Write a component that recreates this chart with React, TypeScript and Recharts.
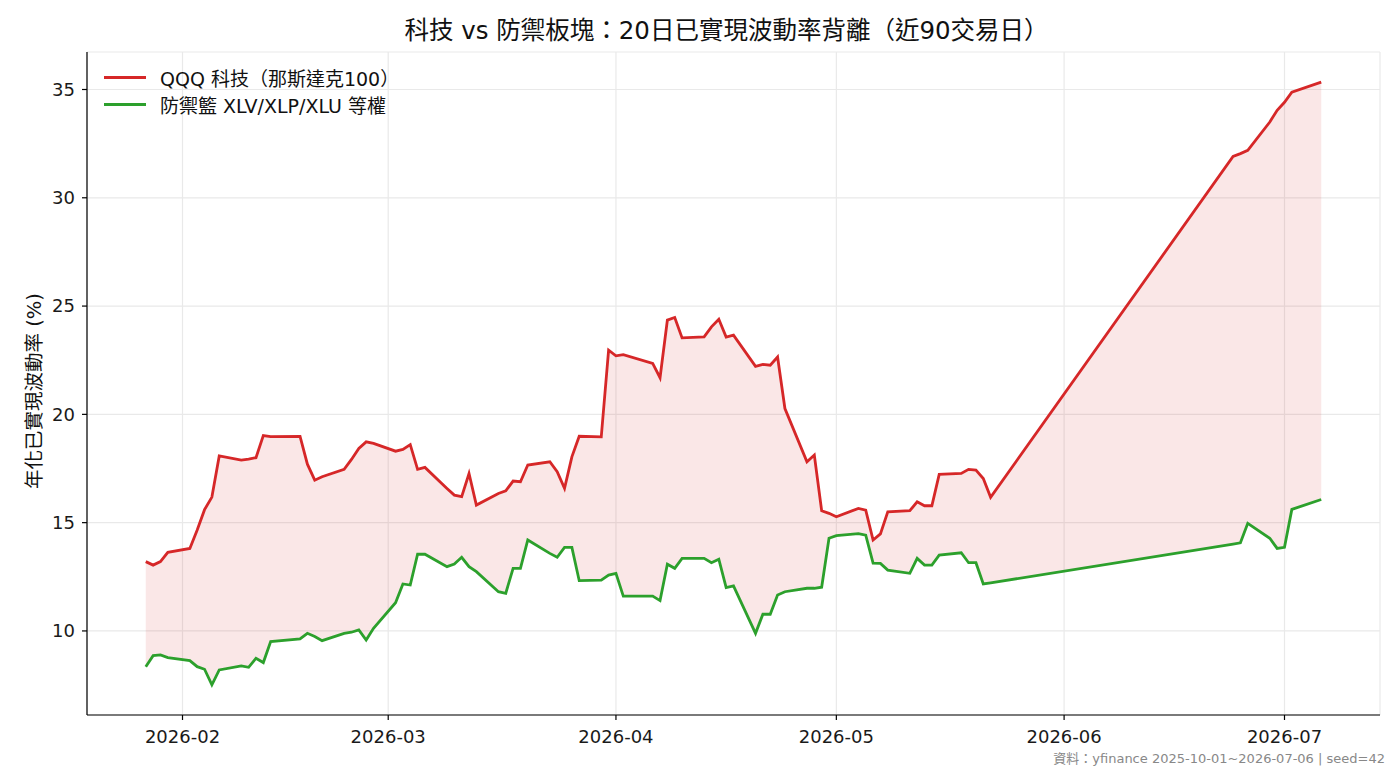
import { ComposedChart, Area, Line, XAxis, YAxis, CartesianGrid } from 'recharts'

const FONT = '"DejaVu Sans", "Noto Sans CJK TC", sans-serif'
const RED = '#d62728'
const GREEN = '#2ca02c'

// trading days (close dates)
const dates = [
  '2026-01-27', '2026-01-28', '2026-01-29', '2026-01-30', '2026-02-02', '2026-02-03', '2026-02-04', '2026-02-05',
  '2026-02-06', '2026-02-09', '2026-02-10', '2026-02-11', '2026-02-12', '2026-02-13', '2026-02-17', '2026-02-18',
  '2026-02-19', '2026-02-20', '2026-02-23', '2026-02-24', '2026-02-25', '2026-02-26', '2026-02-27', '2026-03-02',
  '2026-03-03', '2026-03-04', '2026-03-05', '2026-03-06', '2026-03-09', '2026-03-10', '2026-03-11', '2026-03-12',
  '2026-03-13', '2026-03-16', '2026-03-17', '2026-03-18', '2026-03-19', '2026-03-20', '2026-03-23', '2026-03-24',
  '2026-03-25', '2026-03-26', '2026-03-27', '2026-03-30', '2026-03-31', '2026-04-01', '2026-04-02', '2026-04-06',
  '2026-04-07', '2026-04-08', '2026-04-09', '2026-04-10', '2026-04-13', '2026-04-14', '2026-04-15', '2026-04-16',
  '2026-04-17', '2026-04-20', '2026-04-21', '2026-04-22', '2026-04-23', '2026-04-24', '2026-04-27', '2026-04-28',
  '2026-04-29', '2026-04-30', '2026-05-01', '2026-05-04', '2026-05-05', '2026-05-06', '2026-05-07', '2026-05-08',
  '2026-05-11', '2026-05-12', '2026-05-13', '2026-05-14', '2026-05-15', '2026-05-18', '2026-05-19', '2026-05-20',
  '2026-05-21', '2026-05-22', '2026-06-24', '2026-06-25', '2026-06-26', '2026-06-29', '2026-06-30', '2026-07-01',
  '2026-07-02', '2026-07-06',
]

// QQQ 20d realized vol (%)
const qqqVol = [
  13.2, 13.04, 13.2, 13.63, 13.81, 14.66, 15.6, 16.18,
  18.08, 17.89, 17.93, 18.0, 19.02, 18.97, 18.98, 17.7,
  16.96, 17.12, 17.46, 17.92, 18.43, 18.73, 18.66, 18.3,
  18.38, 18.6, 17.46, 17.55, 16.58, 16.27, 16.2, 17.27,
  15.81, 16.35, 16.47, 16.92, 16.89, 17.66, 17.81, 17.35,
  16.58, 18.04, 18.99, 18.96, 22.96, 22.7, 22.76, 22.35,
  21.69, 24.35, 24.47, 23.53, 23.58, 24.04, 24.39, 23.57,
  23.66, 22.22, 22.31, 22.27, 22.65, 20.27, 17.81, 18.12,
  15.55, 15.43, 15.27, 15.66, 15.58, 14.2, 14.48, 15.5,
  15.55, 15.96, 15.78, 15.78, 17.23, 17.27, 17.46, 17.43,
  17.04, 16.17, 31.91, 32.04, 32.19, 33.5, 34.04, 34.41,
  34.88, 35.34,
]

// XLV/XLP/XLU equal-weight 20d realized vol (%)
const defVol = [
  8.35, 8.86, 8.89, 8.77, 8.63, 8.35, 8.23, 7.51,
  8.2, 8.39, 8.32, 8.74, 8.54, 9.51, 9.63, 9.89,
  9.74, 9.55, 9.89, 9.94, 10.05, 9.58, 10.12, 11.3,
  12.17, 12.12, 13.54, 13.54, 12.97, 13.09, 13.4, 12.97,
  12.74, 11.81, 11.74, 12.89, 12.89, 14.2, 13.58, 13.4,
  13.86, 13.86, 12.32, 12.35, 12.58, 12.66, 11.61, 11.61,
  11.4, 13.08, 12.89, 13.35, 13.35, 13.15, 13.31, 12.0,
  12.08, 9.89, 10.77, 10.77, 11.66, 11.81, 11.97, 11.97,
  12.02, 14.28, 14.4, 14.49, 14.42, 13.13, 13.12, 12.81,
  12.66, 13.35, 13.04, 13.04, 13.5, 13.61, 13.15, 13.15,
  12.17, 12.22, 14.01, 14.07, 14.97, 14.28, 13.81, 13.86,
  15.61, 16.07,
]

const monthTicks = ['2026-02-01', '2026-03-01', '2026-04-01', '2026-05-01', '2026-06-01', '2026-07-01']
const yTicks = [10, 15, 20, 25, 30, 35]

const legendItems = [
  { label: 'QQQ 科技（那斯達克100）', color: RED },
  { label: '防禦籃 XLV/XLP/XLU 等權', color: GREEN },
]

const DAY = 86400000
const toTs = (d: string) => Date.parse(d + 'T00:00:00Z')

export default function App() {
  const data = dates.map((d, i) => ({
    t: toTs(d),
    qqq: qqqVol[i],
    def: defVol[i],
    band: [defVol[i], qqqVol[i]],
  }))

  // matplotlib-like 5% margins
  const tMin = data[0].t, tMax = data[data.length - 1].t
  const tPad = (tMax - tMin) * 0.05
  const all = [...qqqVol, ...defVol]
  const vMin = Math.min(...all), vMax = Math.max(...all)
  const vPad = (vMax - vMin) * 0.05

  const tickStyle = { fontSize: 18, fill: '#1a1a1a', fontFamily: FONT }

  return (
    <div style={{ position: 'absolute', left: 0, top: 0, width: 1400, height: 770, background: '#fff', fontFamily: FONT }}>
      <ComposedChart
        width={1400}
        height={770}
        data={data}
        margin={{ top: 52, right: 20, bottom: 0, left: 0 }}
      >
        <CartesianGrid stroke="#e9e9e9" strokeWidth={1.2} />
        <XAxis
          type="number"
          dataKey="t"
          domain={[Math.round(tMin - tPad), Math.round(tMax + tPad)]}
          ticks={monthTicks.map(toTs)}
          tickFormatter={(v: number) => new Date(v + DAY / 2).toISOString().slice(0, 7)}
          height={55}
          tick={tickStyle}
          tickSize={5}
          tickMargin={10}
          axisLine={{ stroke: '#000', strokeWidth: 1.2 }}
          tickLine={{ stroke: '#000', strokeWidth: 1.2 }}
          allowDataOverflow
        />
        <YAxis
          type="number"
          domain={[vMin - vPad, vMax + vPad]}
          ticks={yTicks}
          width={87}
          tick={tickStyle}
          tickSize={5}
          tickMargin={7}
          axisLine={{ stroke: '#000', strokeWidth: 1.2 }}
          tickLine={{ stroke: '#000', strokeWidth: 1.2 }}
          allowDataOverflow
        />
        <Area
          type="linear"
          dataKey="band"
          stroke="none"
          fill={RED}
          fillOpacity={0.11}
          isAnimationActive={false}
        />
        <Line type="linear" dataKey="qqq" stroke={RED} strokeWidth={2.8} dot={false} isAnimationActive={false} />
        <Line type="linear" dataKey="def" stroke={GREEN} strokeWidth={2.8} dot={false} isAnimationActive={false} />
      </ComposedChart>

      {/* title */}
      <div style={{ position: 'absolute', left: 80, width: 1293, top: 16, textAlign: 'center', fontSize: 24.5, lineHeight: '30px', color: '#111' }}>
        科技 vs 防禦板塊：20日已實現波動率背離（近90交易日）
      </div>

      {/* y label */}
      <div style={{ position: 'absolute', left: 32, top: 391, transform: 'translate(-50%, -50%) rotate(-90deg)', whiteSpace: 'nowrap', fontSize: 19.5, color: '#111' }}>
        年化已實現波動率 (%)
      </div>

      {/* legend */}
      <div style={{ position: 'absolute', left: 104, top: 64 }}>
        {legendItems.map((it) => (
          <div key={it.label} style={{ display: 'flex', alignItems: 'center', height: 27 }}>
            <span style={{ display: 'inline-block', width: 42, height: 3, background: it.color, marginRight: 14 }} />
            <span style={{ fontSize: 19, color: '#111' }}>{it.label}</span>
          </div>
        ))}
      </div>

      {/* source note */}
      <div style={{ position: 'absolute', right: 15, top: 748, fontSize: 13, color: '#888' }}>
        資料：yfinance 2025-10-01~2026-07-06 | seed=42
      </div>
    </div>
  )
}
